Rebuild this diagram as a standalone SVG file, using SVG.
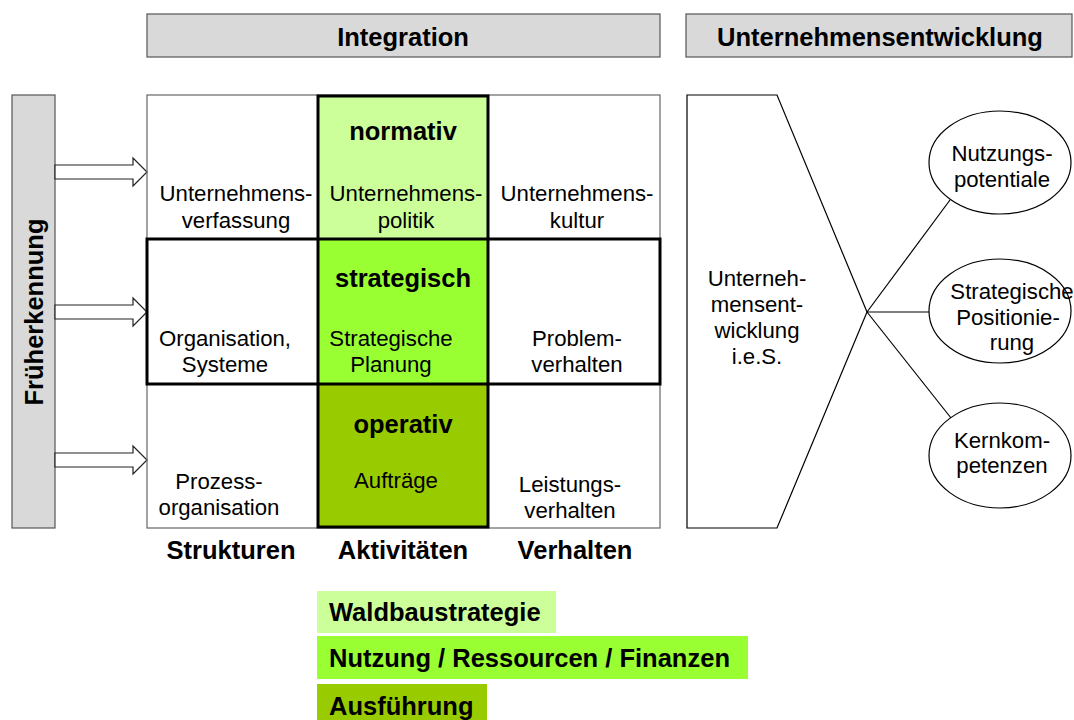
<svg xmlns="http://www.w3.org/2000/svg" width="1074" height="720" viewBox="0 0 1074 720">
<style>
.r{font-family:"Liberation Sans",Arial,sans-serif;font-size:22.2px;fill:#000;text-anchor:middle}
.b{font-family:"Liberation Sans",Arial,sans-serif;font-size:25.5px;font-weight:bold;fill:#000;text-anchor:middle}
.bl{font-family:"Liberation Sans",Arial,sans-serif;font-size:25.5px;font-weight:bold;fill:#000}
.hdr{fill:#D9D9D9;stroke:#555;stroke-width:1.2}
.thin{fill:none;stroke:#666;stroke-width:1.2}
.thick{fill:none;stroke:#000;stroke-width:3}
.ln{fill:none;stroke:#000;stroke-width:1.2}
.arr{fill:#fff;stroke:#222;stroke-width:1.2}
</style>
<rect width="1074" height="720" fill="#fff"/>

<g id="header-integration">
<rect class="hdr" x="147" y="14" width="513" height="43"/>
<text class="b" x="403" y="46">Integration</text>
</g>
<g id="header-unternehmensentwicklung">
<rect class="hdr" x="686" y="14" width="386" height="43"/>
<text class="b" x="880" y="46">Unternehmensentwicklung</text>
</g>

<g id="frueherkennung">
<rect class="hdr" x="12" y="95" width="43" height="433"/>
<text class="b" x="43" y="312" transform="rotate(-90 43 312)">Früherkennung</text>
</g>

<g id="connectors">
<path class="arr" d="M55,165 H133 V158 L147,172 L133,186 V179 H55 Z"/>
<path class="arr" d="M55,305 H133 V298 L147,312 L133,326 V319 H55 Z"/>
<path class="arr" d="M55,453 H133 V446 L147,460 L133,474 V467 H55 Z"/>
<line class="ln" x1="867" y1="312" x2="950" y2="200"/>
<line class="ln" x1="867" y1="312" x2="929" y2="312"/>
<line class="ln" x1="867" y1="312" x2="951" y2="418"/>
</g>

<g id="grid">
<rect x="318" y="96" width="170" height="143" fill="#CCFF99"/>
<rect x="318" y="239" width="170" height="145" fill="#99FF33"/>
<rect x="318" y="384" width="170" height="143" fill="#99CC00"/>
<rect class="thin" x="147" y="95" width="513" height="433"/>
<rect class="thick" x="318" y="96" width="170" height="431"/>
<rect class="thick" x="147" y="239" width="513" height="145"/>
</g>

<g id="cell-verfassung">
<text class="r" x="236" y="201">Unternehmens-</text>
<text class="r" x="236" y="228">verfassung</text>
</g>
<g id="cell-normativ">
<text class="b" x="403" y="140">normativ</text>
<text class="r" x="406" y="201">Unternehmens-</text>
<text class="r" x="406" y="228">politik</text>
</g>
<g id="cell-kultur">
<text class="r" x="577" y="201">Unternehmens-</text>
<text class="r" x="577" y="228">kultur</text>
</g>
<g id="cell-organisation">
<text class="r" x="225" y="346">Organisation,</text>
<text class="r" x="225" y="372">Systeme</text>
</g>
<g id="cell-strategisch">
<text class="b" x="403" y="287">strategisch</text>
<text class="r" x="391" y="346">Strategische</text>
<text class="r" x="391" y="372">Planung</text>
</g>
<g id="cell-problem">
<text class="r" x="577" y="346">Problem-</text>
<text class="r" x="577" y="372">verhalten</text>
</g>
<g id="cell-prozess">
<text class="r" x="219" y="489">Prozess-</text>
<text class="r" x="219" y="515">organisation</text>
</g>
<g id="cell-operativ">
<text class="b" x="403" y="433">operativ</text>
<text class="r" x="396" y="488">Aufträge</text>
</g>
<g id="cell-leistung">
<text class="r" x="570" y="492">Leistungs-</text>
<text class="r" x="570" y="518">verhalten</text>
</g>

<g id="col-labels">
<text class="b" x="231" y="559">Strukturen</text>
<text class="b" x="403" y="559">Aktivitäten</text>
<text class="b" x="575" y="559">Verhalten</text>
</g>

<g id="ue-ies">
<polygon class="ln" points="687,95 777,95 867,312 777,528 687,528"/>
<text class="r" x="757" y="286">Unterneh-</text>
<text class="r" x="757" y="312">mensent-</text>
<text class="r" x="757" y="338">wicklung</text>
<text class="r" x="757" y="364">i.e.S.</text>
</g>
<g id="nutzungspotentiale">
<ellipse class="ln" cx="1000" cy="162.5" rx="71" ry="51.5" fill="#fff"/>
<text class="r" x="1002" y="161">Nutzungs-</text>
<text class="r" x="1002" y="187">potentiale</text>
</g>
<g id="positionierung">
<ellipse class="ln" cx="1000" cy="311" rx="71" ry="52" fill="#fff"/>
<text class="r" x="1012" y="299">Strategische</text>
<text class="r" x="1008" y="325">Positionie-</text>
<text class="r" x="1012" y="350">rung</text>
</g>
<g id="kernkompetenzen">
<ellipse class="ln" cx="1000" cy="455.5" rx="71" ry="52.5" fill="#fff"/>
<text class="r" x="1002" y="448">Kernkom-</text>
<text class="r" x="1002" y="473">petenzen</text>
</g>

<g id="legend-waldbau">
<rect x="317" y="591" width="239" height="42" fill="#CCFF99"/>
<text class="bl" x="329" y="621">Waldbaustrategie</text>
</g>
<g id="legend-nutzung">
<rect x="317" y="636" width="431" height="43" fill="#99FF33"/>
<text class="bl" x="329" y="667">Nutzung / Ressourcen / Finanzen</text>
</g>
<g id="legend-ausfuehrung">
<rect x="317" y="684" width="170" height="36" fill="#99CC00"/>
<text class="bl" x="329" y="715">Ausführung</text>
</g>
</svg>
